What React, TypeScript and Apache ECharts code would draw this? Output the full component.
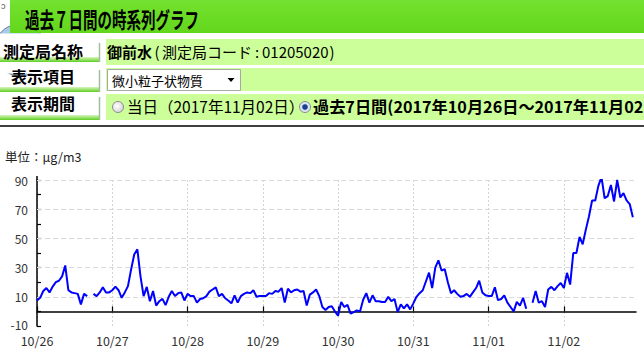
import React, { useEffect, useRef } from "react";
import * as echarts from "echarts";

// ---- data ----
const days = ["10/26", "10/27", "10/28", "10/29", "10/30", "10/31", "11/01", "11/02"];
const hours = Array.from({ length: 24 }, (_, i) => i);
const categories = days.flatMap((d) => hours.map((h) => `${d} ${h}`));

// hourly PM2.5 (µg/m3), 10/26 0:00 .. 11/02 23:00 (null = missing)
const pm25: (number | null)[] = [
  // 10/26
  7.5, 9.3, 14, 16, 13, 17, 20, 21, 24, 31.5, 14.5, 13, 12.5, 12, 4.8, 12, 10.5, null, 12, 10.5, 13, 16.6, 13, 13,
  // 10/27
  14.5, 17, 14.5, 9.3, 13, 17.3, 28.6, 39, 42.5, 24, 10.5, 16.8, 7, 14, 4, 7, 8.6, 4.3, 10, 14, 10.5, 12.5, 13, 7.5,
  // 10/28
  12, 10.5, 10.5, 6, 8.5, 9, 10.5, 13.5, 15, 16.5, 10.5, 12, 9, 7.5, 5.5, 11, 6, 10.5, 12, 13, 12.5, 14.5, 10, 10.5,
  // 10/29
  10.5, 10.5, 12.5, 12, 14, 13.5, 16, 6, 15.5, 13, 14.5, 15, 13.5, 14, 4, 11.5, 13, 15, 10.5, 3, 1, 3, 3.5, 0,
  // 10/30
  -3, 6.5, 3, 4.5, -1.5, -0.5, 0.7, 0, 8, 12.5, 6, 11, 7, 7, 6.5, 6.5, 10, 7, 8.5, -0.5, 4.8, 2, 4.8, 1.4,
  // 10/31
  5.5, 10, 12.5, 14.5, 20.5, 26.5, 16, 30, 35, 28, 29, 20, 12.5, 14.5, 12, 10, 10.5, 12, 10, 13, 16, 21, 13, 11,
  // 11/01
  10.5, 10.5, 16.5, 7.7, 8.5, 11, 6, 3, 0, 6.5, 4, 9.3, 1.8, null, 6, 14, 6, 7, 3, 15, 16.8, 14.5, 17.3, 19.5,
  // 11/02
  16, 26.4, 18.4, 40, 40, 51, 46, 56, 65, 76, 76, 86, 92, 77.5, 79, 86.6, 75.3, 90, 78, 81, 76, 73.5, 64.5, null,
];

const yLabelValues = [-10, 10, 30, 50, 70, 90];
const gridValues = [10, 30, 50, 70, 90];

const FONT = "'Noto Sans CJK JP', sans-serif";

export default function App() {
  const ref = useRef<HTMLDivElement>(null);

  useEffect(() => {
    if (!ref.current) return;
    const chart = echarts.init(ref.current, undefined, { renderer: "svg" });

    const labelBar = (y: number) => ({
      type: "rect",
      shape: { x: 0, y, width: 100, height: 5 },
      style: {
        fill: new echarts.graphic.LinearGradient(0, 0, 0, 1, [
          { offset: 0, color: "#d8f6bf" },
          { offset: 1, color: "#5fcf1f" },
        ]),
      },
      silent: true,
    });
    const labelEdge = (y1: number, y2: number) => ({
      type: "line",
      shape: { x1: 99.5, y1, x2: 99.5, y2 },
      style: { stroke: "#9fbf9a", lineWidth: 1.5 },
      silent: true,
    });
    const rowLabel = (text: string, y: number) => ({
      type: "text",
      x: 43,
      y,
      style: {
        text,
        fill: "#000",
        font: `bold 16px ${FONT}`,
        align: "center",
        verticalAlign: "middle",
      },
      silent: true,
    });
    const cell = (y: number, h: number) => ({
      type: "rect",
      shape: { x: 106, y, width: 540, height: h },
      style: { fill: "#ccff99" },
      silent: true,
    });

    const graphic: any[] = [
      // little icon at the top left
      {
        type: "circle",
        shape: { cx: 20, cy: 50, r: 26 },
        style: { fill: "#a9cbe8", stroke: "#6b7f95", lineWidth: 1 },
        silent: true,
      },
      { type: "rect", shape: { x: 0, y: 33.5, width: 110, height: 40 }, style: { fill: "#fff" }, silent: true },
      {
        type: "text",
        x: 1,
        y: 5,
        style: { text: "ɔ", fill: "#555", font: `9px ${FONT}`, verticalAlign: "middle" },
        silent: true,
      },
      // title bar
      {
        type: "rect",
        shape: { x: 10, y: 0, width: 634, height: 33 },
        style: {
          fill: new echarts.graphic.LinearGradient(0, 0, 0, 1, [
            { offset: 0, color: "#74e231" },
            { offset: 0.5, color: "#6bdc25" },
            { offset: 1, color: "#62d61c" },
          ]),
        },
        silent: true,
      },
      {
        type: "text",
        x: 25,
        y: 18,
        scaleX: 0.66,
        style: {
          text: "過去７日間の時系列グラフ",
          fill: "#000",
          font: `bold 22px ${FONT}`,
          align: "left",
          verticalAlign: "middle",
        },
        silent: true,
      },
      // rows
      labelBar(57),
      labelEdge(43, 62),
      rowLabel("測定局名称", 50.5),
      labelBar(87),
      labelEdge(70, 92),
      rowLabel("表示項目", 76),
      labelBar(115),
      labelEdge(97, 120),
      rowLabel("表示期間", 102.5),
      cell(39, 26),
      cell(68, 23),
      cell(94, 26),
      // row 1 content
      {
        type: "text",
        x: 107,
        y: 51,
        style: {
          text: "{b|御前水}{p|(}{n|測定局コード}{p|:}{n|01205020}{q|)}",
          rich: {
            b: { font: `bold 15px ${FONT}`, fill: "#000" },
            n: { font: `15px ${FONT}`, fill: "#000" },
            p: { font: `15px ${FONT}`, fill: "#000", width: 10, align: "center" },
            q: { font: `15px ${FONT}`, fill: "#000", width: 7, align: "center" },
          },
          verticalAlign: "middle",
        },
        silent: true,
      },
      // row 2: select box
      {
        type: "rect",
        shape: { x: 107.5, y: 69.5, width: 133, height: 21 },
        style: { fill: "#fff", stroke: "#a8a8a8", lineWidth: 1 },
        silent: true,
      },
      {
        type: "text",
        x: 112,
        y: 80,
        style: {
          text: "微小粒子状物質",
          fill: "#000",
          font: `13px ${FONT}`,
          verticalAlign: "middle",
        },
        silent: true,
      },
      {
        type: "polygon",
        shape: { points: [[227.5, 78], [234.5, 78], [231, 82]] },
        style: { fill: "#000" },
        silent: true,
      },
      // row 3: radio buttons
      {
        type: "circle",
        shape: { cx: 118, cy: 107, r: 5.5 },
        style: {
          fill: new echarts.graphic.RadialGradient(0.4, 0.4, 0.7, [
            { offset: 0, color: "#ffffff" },
            { offset: 1, color: "#cfcfcf" },
          ]),
          stroke: "#8a8a8a",
          lineWidth: 1,
        },
        silent: true,
      },
      {
        type: "text",
        x: 127,
        y: 106,
        style: {
          text: "当日（2017年11月02日）",
          fill: "#000",
          font: `15.5px ${FONT}`,
          verticalAlign: "middle",
        },
        silent: true,
      },
      {
        type: "circle",
        shape: { cx: 305, cy: 107, r: 5.5 },
        style: { fill: "#d6e4f4", stroke: "#8a8a8a", lineWidth: 1 },
        silent: true,
      },
      {
        type: "circle",
        shape: { cx: 305, cy: 107, r: 2.8 },
        style: { fill: "#1c3d8c" },
        silent: true,
      },
      {
        type: "text",
        x: 313,
        y: 106,
        style: {
          text: "過去7日間(2017年10月26日～2017年11月02日)",
          fill: "#000",
          font: `bold 16.2px ${FONT}`,
          verticalAlign: "middle",
        },
        silent: true,
      },
      // separator line
      {
        type: "line",
        shape: { x1: 0, y1: 126, x2: 644, y2: 126 },
        style: { stroke: "#000", lineWidth: 1.5 },
        silent: true,
      },
      // unit
      {
        type: "text",
        x: 5,
        y: 156,
        style: {
          text: "単位：μg/m3",
          fill: "#222",
          font: `12.5px ${FONT}`,
          verticalAlign: "middle",
        },
        silent: true,
      },
      // y-axis line extension above the top tick
      {
        type: "line",
        shape: { x1: 37, y1: 176, x2: 37, y2: 180 },
        style: { stroke: "#000", lineWidth: 1.5 },
        silent: true,
      },
    ];

    const everyDay = (i: number) => i % 24 === 0;

    chart.setOption({
      animation: false,
      backgroundColor: "#fff",
      textStyle: { fontFamily: FONT },
      graphic,
      grid: { left: 37, right: 8, top: 180, bottom: 27, containLabel: false },
      xAxis: {
        type: "category",
        data: categories,
        boundaryGap: false,
        axisLine: { lineStyle: { color: "#000", width: 1.5 } },
        axisTick: { inside: true, length: 5, interval: everyDay, lineStyle: { color: "#000", width: 1.2 } },
        axisLabel: {
          interval: everyDay,
          formatter: (v: string) => v.split(" ")[0],
          color: "#333",
          fontSize: 12.5,
          lineHeight: 12,
          fontFamily: FONT,
          margin: 8,
        },
        splitLine: {
          show: true,
          interval: everyDay,
          lineStyle: { color: "#d2d2d2", type: [2, 2], width: 1 },
        },
      },
      yAxis: {
        type: "value",
        min: -10,
        max: 90,
        interval: 10,
        axisLine: { show: true, lineStyle: { color: "#000", width: 1.5 } },
        axisTick: { show: true, inside: true, length: 4, lineStyle: { color: "#000", width: 1.2 } },
        axisLabel: {
          formatter: (v: number) =>
            v === yLabelValues[0] ? `{low|${v}}` : yLabelValues.includes(v) ? String(v) : "",
          color: "#333",
          fontSize: 12,
          lineHeight: 11,
          fontFamily: FONT,
          margin: 9,
          rich: {
            low: { fontSize: 12, lineHeight: 11, color: "#333", fontFamily: FONT, padding: [0, 0, 4, 0] },
          },
        },
        splitLine: { show: false },
      },
      series: [
        {
          type: "line",
          name: "grid",
          data: [],
          z: 1,
          silent: true,
          markLine: {
            silent: true,
            z: 1,
            symbol: ["none", "none"],
            label: { show: false },
            lineStyle: { color: "#d9d9d9", type: [5, 3], width: 1.2 },
            data: gridValues.map((v) => ({ yAxis: v })),
          },
        },
        {
          type: "line",
          name: "微小粒子状物質",
          data: pm25,
          z: 3,
          showSymbol: false,
          symbol: "none",
          connectNulls: false,
          lineStyle: { color: "#0000ff", width: 2 },
          itemStyle: { color: "#0000ff" },
        },
      ],
    });

    return () => chart.dispose();
  }, []);

  return (
    <div
      ref={ref}
      style={{ position: "fixed", left: 0, top: 0, width: 644, height: 353, background: "#fff" }}
    />
  );
}
